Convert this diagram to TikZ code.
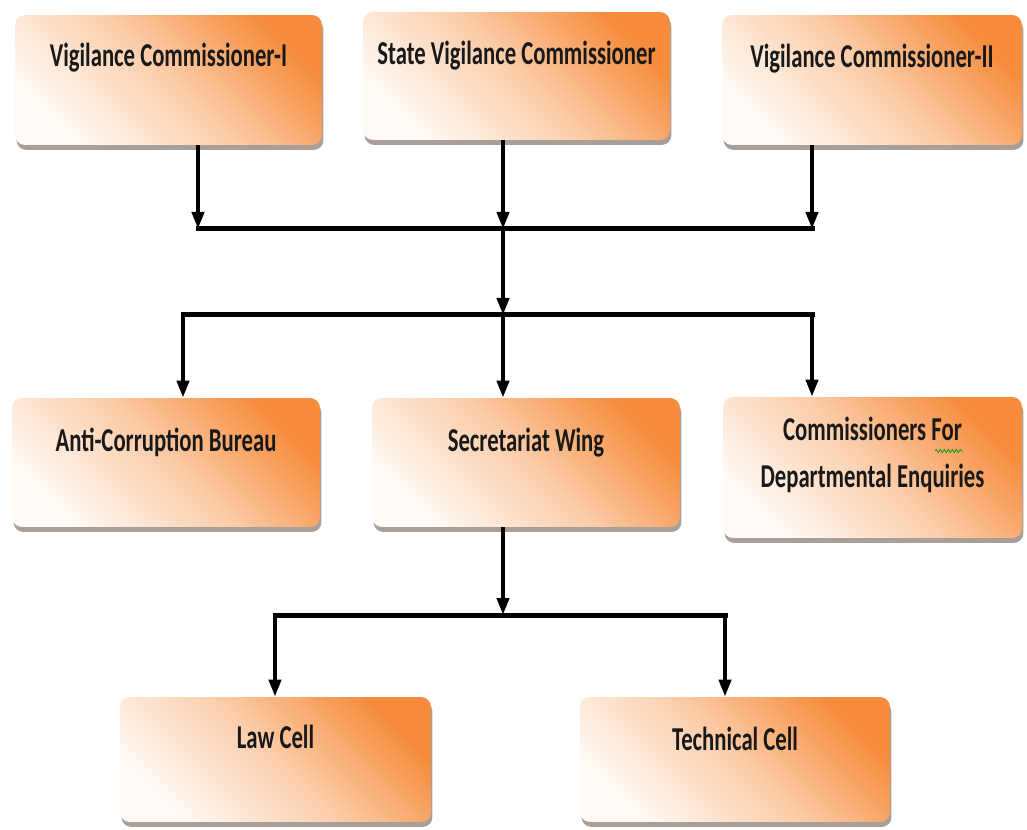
\documentclass[tikz,border=0pt]{standalone}
\usepackage{fontspec}
\setmainfont{Carlito}[FakeStretch=0.68]
\usetikzlibrary{arrows.meta,shadows,decorations.pathmorphing}
\definecolor{orC}{RGB}{246,140,60}
\definecolor{ltC}{RGB}{255,250,245}
\definecolor{shC}{RGB}{110,95,85}
\begin{document}
\begin{tikzpicture}[x=0.02cm,y=-0.02cm,
  box/.style={rounded corners=0.2cm, inner sep=0pt, align=flush center,
    top color=orC, bottom color=ltC, middle color=orC!40!ltC, shading angle=-45,
    drop shadow={shadow xshift=0.03cm, shadow yshift=-0.1cm, opacity=0.6, fill=shC},
    font=\bfseries\fontsize{19}{27.3}\selectfont, text=black!90},
  arr/.style={line width=0.08cm, -{Triangle[length=0.34cm,width=0.24cm]}},
  bar/.style={line width=0.1cm, line cap=rect}]
\fill[white] (0,0) rectangle (1027,830);
\useasboundingbox (0,0) rectangle (1027,830);

\node[box, minimum width=6.14cm, text width=6.14cm, minimum height=2.6cm, text height=1.04cm, text depth=1.56cm] (vc1) at (168.5,80) {Vigilance Commissioner-I};
\node[box, minimum width=6.14cm, text width=6.14cm, minimum height=2.56cm, text height=1.06cm, text depth=1.5cm] (svc) at (516.5,76) {State Vigilance Commissioner};
\node[box, minimum width=6.0cm, text width=6.0cm, minimum height=2.6cm, text height=1.06cm, text depth=1.54cm] (vc2) at (872,80) {Vigilance Commissioner-II};

\node[box, minimum width=6.16cm, text width=6.16cm, minimum height=2.58cm, text height=1.08cm, text depth=1.5cm] (acb) at (166,462.5) {Anti-Corruption Bureau};
\node[box, minimum width=6.16cm, text width=6.16cm, minimum height=2.58cm, text height=1.08cm, text depth=1.5cm] (sw) at (526,462.5) {Secretariat Wing};
\node[box, minimum width=5.98cm, text width=5.98cm, minimum height=2.82cm, text height=0.86cm, text depth=1.96cm] (cde) at (872.5,467.5) {Commissioners For\\Departmental Enquiries};

\node[box, minimum width=6.22cm, text width=6.22cm, minimum height=2.5cm, text height=1.02cm, text depth=1.48cm] (law) at (275.5,759.5) {Law Cell};
\node[box, minimum width=6.2cm, text width=6.2cm, minimum height=2.5cm, text height=1.06cm, text depth=1.44cm] (tech) at (735,759.5) {Technical Cell};

\draw[green!60!black, decorate, decoration={snake, amplitude=0.03cm, segment length=0.08cm}] (935,451) -- (963,451);

\coordinate (a1) at (198,229);
\coordinate (a2) at (503,229);
\coordinate (a3) at (812,229);
\coordinate (b2) at (503,315);
\coordinate (c1) at (183,315);
\coordinate (c3) at (812,315);
\coordinate (d2) at (503,615);
\coordinate (d1) at (275,615);
\coordinate (d3) at (725,615);

\draw[bar] (a1) -- (a3);
\draw[arr] (vc1.south -| a1) -- (a1);
\draw[arr] (svc.south -| a2) -- (a2);
\draw[arr] (vc2.south -| a3) -- (a3);
\draw[arr] (a2) -- (b2);
\draw[bar] (c1) -- (c3);
\draw[arr] (c1) -- (acb.north -| c1);
\draw[arr] (b2) -- (sw.north -| b2);
\draw[arr] (c3) -- (cde.north -| c3);
\draw[arr] (sw.south -| d2) -- (d2);
\draw[bar] (d1) -- (d3);
\draw[arr] (d1) -- (law.north -| d1);
\draw[arr] (d3) -- (tech.north -| d3);
\end{tikzpicture}
\end{document}
